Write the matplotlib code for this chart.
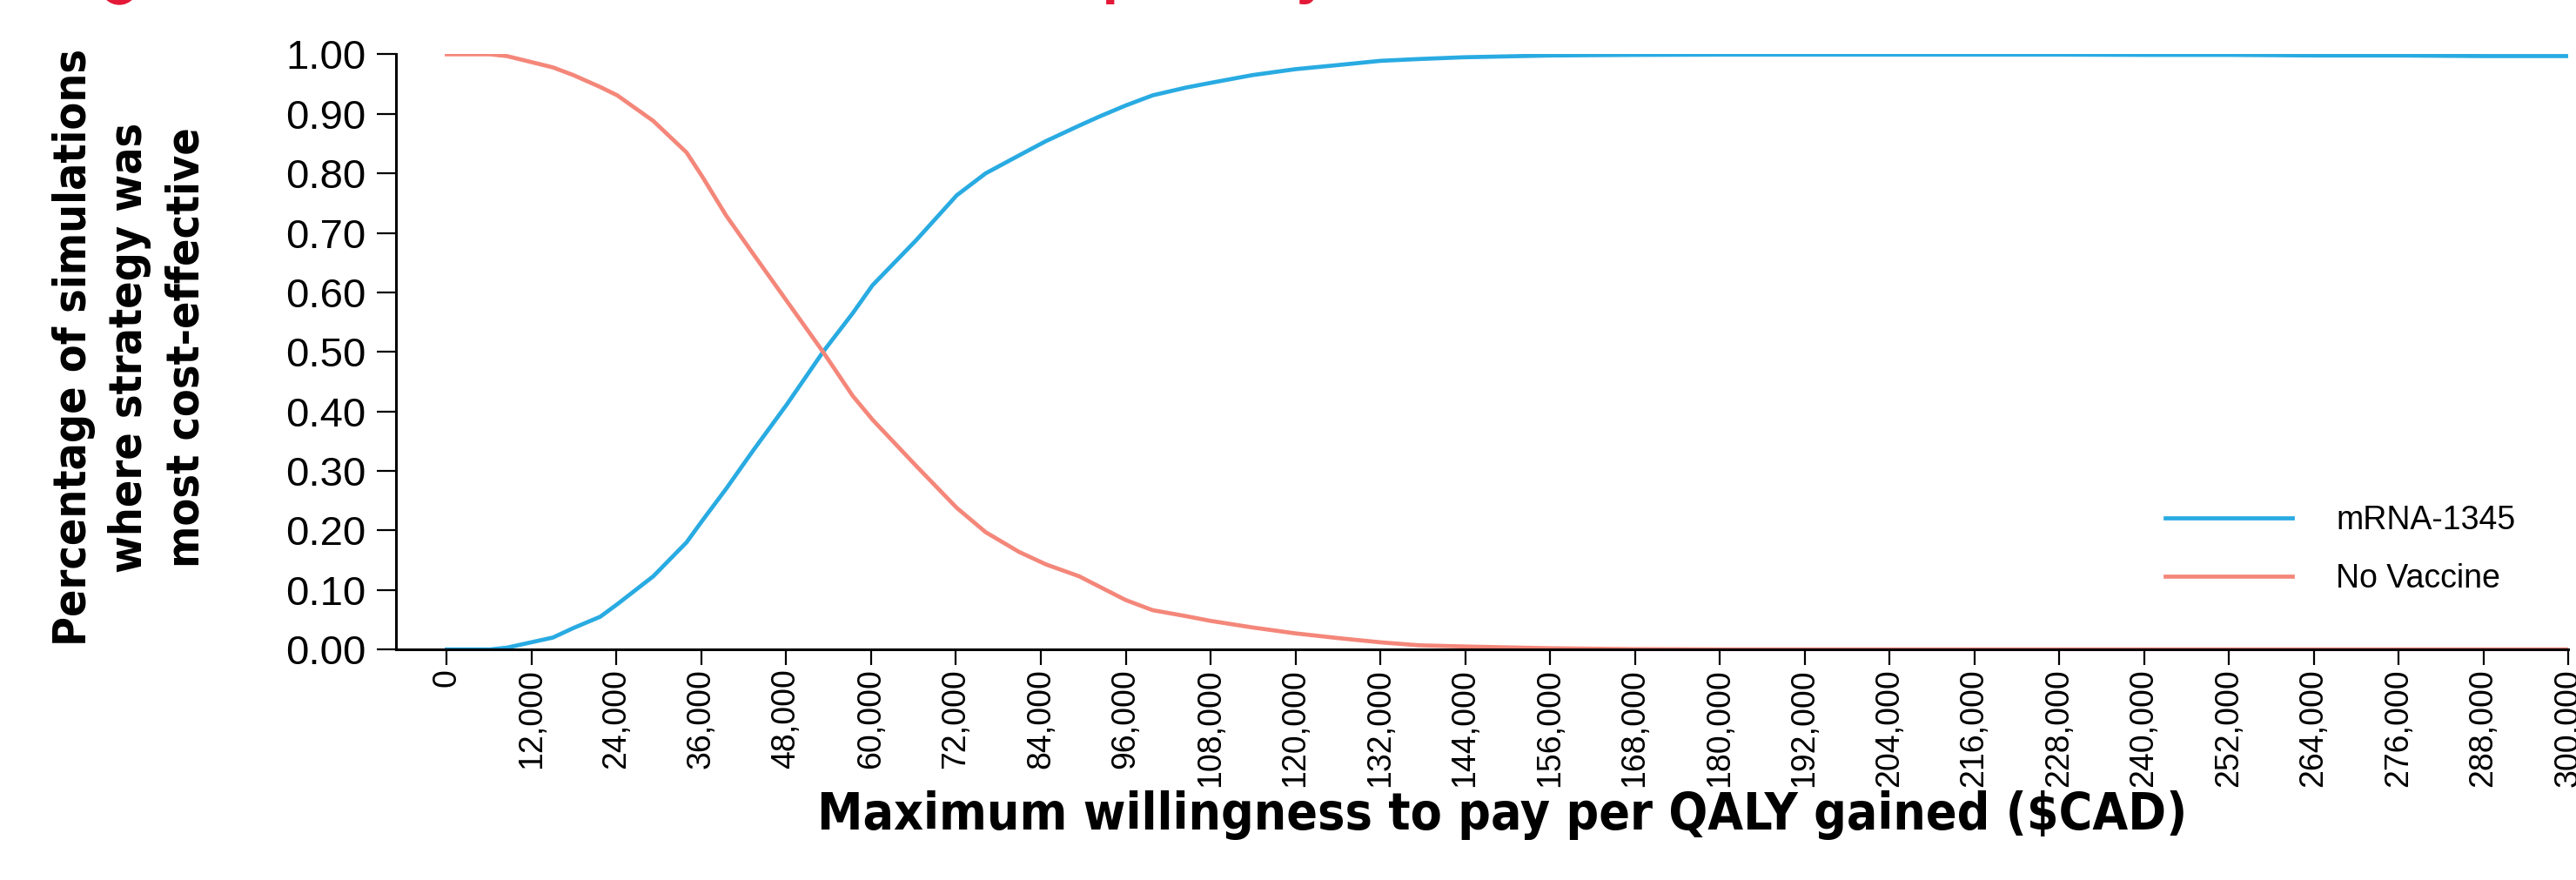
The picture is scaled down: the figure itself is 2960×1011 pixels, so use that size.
import matplotlib
matplotlib.use("Agg")
import matplotlib.pyplot as plt
import matplotlib.font_manager as fm
from matplotlib.patches import Circle
from matplotlib.ticker import FuncFormatter, MultipleLocator

# willingness-to-pay thresholds ($CAD per QALY)
wtp = [0, 6100, 8500, 15000, 17900, 21700, 24100, 29200, 33900, 36100, 39500,
       43300, 48100, 53200, 57400, 60200, 66400, 72100, 76200, 80900, 84700,
       89400, 92200, 96000, 99800, 104500, 108000, 113900, 120000, 126100,
       132000, 137400, 143800, 156000, 168000, 180000, 192000, 204000, 216000,
       228000, 240000, 252000, 264000, 276000, 288000, 300000]

mrna_1345 = [0.0, 0.0, 0.003, 0.020, 0.036, 0.055, 0.076, 0.123, 0.180, 0.216, 0.270,
             0.334, 0.412, 0.500, 0.565, 0.612, 0.688, 0.763, 0.800, 0.830, 0.854,
             0.880, 0.895, 0.914, 0.931, 0.944, 0.952, 0.965, 0.975, 0.982,
             0.989, 0.992, 0.995, 0.998, 0.999, 0.9995, 0.9995, 0.9995, 0.9995,
             0.9995, 0.999, 0.999, 0.998, 0.998, 0.997, 0.997]

no_vaccine = [1.0, 1.0, 0.997, 0.978, 0.965, 0.945, 0.931, 0.888, 0.835, 0.795, 0.729,
              0.665, 0.585, 0.500, 0.426, 0.386, 0.308, 0.238, 0.197, 0.164, 0.143,
              0.123, 0.106, 0.083, 0.066, 0.056, 0.048, 0.037, 0.027, 0.019,
              0.012, 0.007, 0.005, 0.002, 0.0005, 0.0, 0.0, 0.0, 0.0,
              0.0, 0.0, 0.0, 0.0, 0.0, 0.0, 0.0]

BLUE = "#29abe2"
SALMON = "#f4877a"
RED = "#e31937"

plt.rcParams["font.family"] = ["Liberation Sans", "DejaVu Sans"]


def condensed_bold():
    """Pick a bold narrow/condensed sans if one is installed."""
    prefs = ["Liberation Sans Narrow", "Noto Sans", "DejaVu Sans", "Open Sans", "Roboto"]
    found = []
    for f in fm.fontManager.ttflist:
        w = f.weight if isinstance(f.weight, int) else 700 if f.weight == "bold" else 400
        if w != 700 or f.style != "normal":
            continue
        narrow = "Narrow" in f.name or f.stretch in ("condensed", "semi-condensed")
        if narrow and f.name in prefs:
            found.append((prefs.index(f.name), f.stretch != "condensed", f.fname))
    if found:
        return fm.FontProperties(fname=sorted(found)[0][2])
    return fm.FontProperties(family="Liberation Sans", weight="bold")


label_font = condensed_bold()

fig = plt.figure(figsize=(29.6, 10.11), dpi=100)
ax = fig.add_axes([0.1537, 0.262, 0.8433, 0.6763])

ax.plot(wtp, mrna_1345, color=BLUE, lw=3.4, label="mRNA-1345")
ax.plot(wtp, no_vaccine, color=SALMON, lw=3.4, label="No Vaccine")

ax.set_xlim(-7200, 300000)
ax.set_ylim(0, 1)
ax.xaxis.set_major_locator(MultipleLocator(12000))
ax.yaxis.set_major_locator(MultipleLocator(0.1))
ax.xaxis.set_major_formatter(FuncFormatter(lambda v, _: f"{int(v):,}"))
ax.yaxis.set_major_formatter(FuncFormatter(lambda v, _: f"{v:.2f}"))

for side in ["top", "right"]:
    ax.spines[side].set_visible(False)
for side in ["left", "bottom"]:
    ax.spines[side].set_linewidth(2.2)

ax.tick_params(axis="y", length=16, width=1.6, pad=9, labelsize=34)
ax.tick_params(axis="x", length=13, width=1.6, pad=3, labelsize=27, rotation=90)

# axis titles, sized to the widths they take in the source
ylab = fig.text(0.0505, 0.605, "Percentage of simulations\nwhere strategy was\nmost cost-effective",
                rotation=90, ha="center", va="center", fontproperties=label_font,
                fontsize=40, linespacing=1.38)
xlab = fig.text(0.583, 0.074, "Maximum willingness to pay per QALY gained ($CAD)",
                ha="center", va="center", fontproperties=label_font, fontsize=47)

renderer = fig.canvas.get_renderer()
probe = fig.text(0, 0, "Percentage of simulations", fontproperties=label_font, fontsize=40)
scale = 686 / probe.get_window_extent(renderer).width
probe.remove()
ylab.set_fontsize(40 * scale)
scale = 1571 / xlab.get_window_extent(renderer).width
xlab.set_fontsize(47 * scale)

ax.legend(loc="center left", bbox_to_anchor=(0.829, 0.375), bbox_transform=fig.transFigure,
          frameon=False, fontsize=27, handlelength=3.9, handletextpad=1.35, labelspacing=0.82)

# red heading, cut off at the top edge in the source
fig.add_artist(Circle((1.37, 10.27), 0.21, transform=fig.dpi_scale_trans,
                      color=RED, clip_on=False))
fig.text(0.166, 1.009, "Cost-effectiveness acceptability curve", color=RED,
         fontsize=49, fontweight="bold", ha="left", va="baseline")

fig.savefig("out.png", dpi=100)
